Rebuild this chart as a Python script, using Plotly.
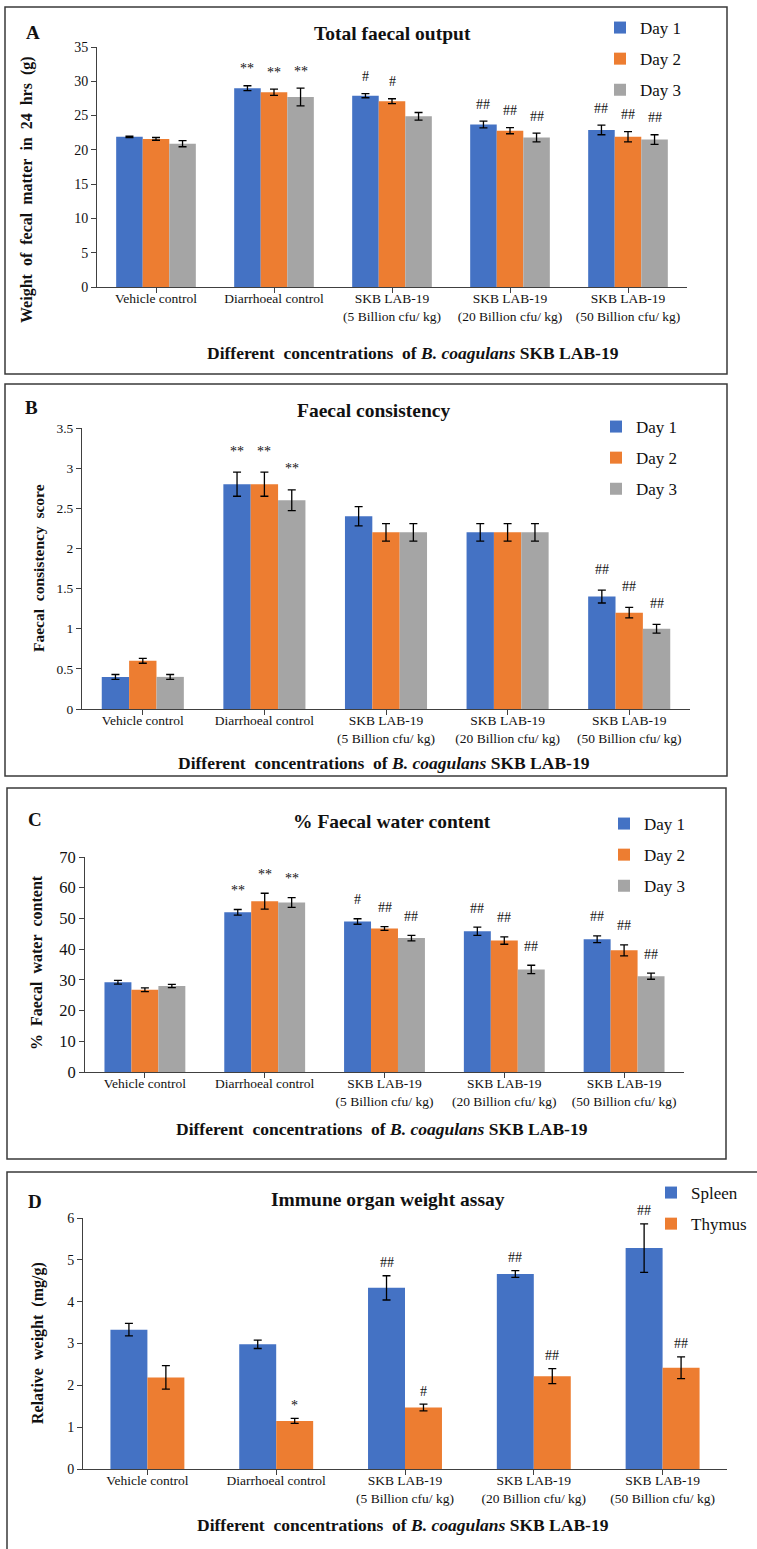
import plotly.graph_objects as go

W, H = 757, 1549
FONT = "Liberation Serif"
INK = "#111111"
AXIS = "#404040"

# ---------------- data ----------------
categories = ["Vehicle control", "Diarrhoeal control",
              "SKB LAB-19<br>(5 Billion cfu/ kg)",
              "SKB LAB-19<br>(20 Billion cfu/ kg)",
              "SKB LAB-19<br>(50 Billion cfu/ kg)"]
day_names = ["Day 1", "Day 2", "Day 3"]
organ_names = ["Spleen", "Thymus"]
day_colors = ["#4472C4", "#ED7D31", "#A5A5A5"]
organ_colors = ["#4472C4", "#ED7D31"]

# A: Total faecal output (g)
output_day1 = [21.9, 29.0, 27.9, 23.7, 22.9]
output_day2 = [21.6, 28.4, 27.1, 22.8, 21.9]
output_day3 = [20.9, 27.7, 24.9, 21.8, 21.5]
output_day1_err = [0.1, 0.35, 0.3, 0.5, 0.7]
output_day2_err = [0.2, 0.45, 0.35, 0.45, 0.75]
output_day3_err = [0.45, 1.3, 0.55, 0.65, 0.7]
output_day1_sig = ["", "**", "#", "##", "##"]
output_day2_sig = ["", "**", "#", "##", "##"]
output_day3_sig = ["", "**", "", "##", "##"]

# B: Faecal consistency score
consist_day1 = [0.4, 2.8, 2.4, 2.2, 1.4]
consist_day2 = [0.6, 2.8, 2.2, 2.2, 1.2]
consist_day3 = [0.4, 2.6, 2.2, 2.2, 1.0]
consist_day1_err = [0.03, 0.15, 0.12, 0.11, 0.08]
consist_day2_err = [0.03, 0.15, 0.11, 0.11, 0.065]
consist_day3_err = [0.03, 0.13, 0.11, 0.11, 0.055]
consist_day1_sig = ["", "**", "", "", "##"]
consist_day2_sig = ["", "**", "", "", "##"]
consist_day3_sig = ["", "**", "", "", "##"]

# C: % Faecal water content
water_day1 = [29.2, 52.0, 49.0, 45.8, 43.2]
water_day2 = [26.8, 55.6, 46.7, 42.8, 39.6]
water_day3 = [28.0, 55.2, 43.6, 33.4, 31.2]
water_day1_err = [0.6, 0.9, 0.9, 1.35, 1.1]
water_day2_err = [0.6, 2.6, 0.6, 1.2, 1.8]
water_day3_err = [0.5, 1.6, 0.9, 1.35, 1.0]
water_day1_sig = ["", "**", "#", "##", "##"]
water_day2_sig = ["", "**", "##", "##", "##"]
water_day3_sig = ["", "**", "##", "##", "##"]

# D: Immune organ weight (mg/g)
spleen = [3.33, 2.98, 4.33, 4.66, 5.28]
thymus = [2.19, 1.15, 1.47, 2.22, 2.42]
spleen_err = [0.15, 0.10, 0.29, 0.08, 0.58]
thymus_err = [0.28, 0.06, 0.08, 0.18, 0.26]
spleen_sig = ["", "", "##", "##", "##"]
thymus_sig = ["", "*", "#", "##", "##"]


def px_x(x):
    return x / W


def px_y(y):
    return 1 - y / H


fig = go.Figure()
annotations = []
shapes = []


def add_panel(n, letter, title, ytitle, names, colors, values, errors, sigs,
              plot_px, yrange, dtick, bar_w, ytickfont, legend_px,
              letter_px, title_px, ytitle_px, ytitle_size, xtitle_px,
              box_px, sig_shift):
    suffix = "" if n == 1 else str(n)
    xref, yref = "x" + suffix, "y" + suffix
    legend_id = "legend" + suffix
    ns = len(names)
    group = ns * bar_w
    for j in range(ns):
        fig.add_trace(go.Bar(
            x=list(range(len(categories))), y=values[j], name=names[j],
            marker=dict(color=colors[j], line=dict(width=0)),
            width=bar_w, offset=-group / 2 + j * bar_w,
            error_y=dict(type="data", array=errors[j], color="#000000",
                         thickness=1.3, width=4),
            xaxis=xref, yaxis=yref, legend=legend_id,
            legendgroup=f"{names[j]}{n}", showlegend=True,
        ))
        for i, s in enumerate(sigs[j]):
            if s:
                annotations.append(dict(
                    x=i - group / 2 + (j + 0.5) * bar_w,
                    y=values[j][i] + errors[j][i],
                    xref=xref, yref=yref, text=s, showarrow=False,
                    xanchor="center", yanchor="middle", yshift=sig_shift,
                    font=dict(family=FONT, size=14, color=INK)))
    x0, y0, x1, y1 = plot_px
    fig.layout["xaxis" + suffix] = dict(
        domain=[px_x(x0), px_x(x1)], anchor=yref,
        range=[-0.5, len(categories) - 0.5],
        tickmode="array", tickvals=list(range(len(categories))),
        ticktext=categories, showline=True, linecolor=AXIS, linewidth=1,
        ticks="outside", tickson="boundaries", ticklen=5, tickcolor=AXIS,
        ticklabelstandoff=-6,
        tickfont=dict(family=FONT, size=13.5, color=INK),
        showgrid=False, zeroline=False, fixedrange=True)
    fig.layout["yaxis" + suffix] = dict(
        domain=[px_y(y1), px_y(y0)], anchor=xref, range=yrange, dtick=dtick,
        showline=True, linecolor=AXIS, linewidth=1, ticks="outside",
        ticklen=5, tickcolor=AXIS,
        tickfont=dict(family=FONT, size=ytickfont, color=INK),
        showgrid=False, zeroline=False, fixedrange=True)
    fig.layout[legend_id] = dict(
        x=px_x(legend_px[0]), y=px_y(legend_px[1]), xanchor="left",
        yanchor="top", bgcolor="rgba(0,0,0,0)", traceorder="grouped",
        tracegroupgap=6, font=dict(family=FONT, size=17, color=INK))
    # panel letter, title, axis titles
    annotations.append(dict(x=px_x(letter_px[0]), y=px_y(letter_px[1]),
                            xref="paper", yref="paper", text=f"<b>{letter}</b>",
                            showarrow=False, xanchor="center", yanchor="middle",
                            font=dict(family=FONT, size=19, color=INK)))
    annotations.append(dict(x=px_x(title_px[0]), y=px_y(title_px[1]),
                            xref="paper", yref="paper", text=f"<b>{title}</b>",
                            showarrow=False, xanchor="center", yanchor="middle",
                            font=dict(family=FONT, size=19.5, color=INK)))
    annotations.append(dict(x=px_x(ytitle_px[0]), y=px_y(ytitle_px[1]),
                            xref="paper", yref="paper", text=f"<b>{ytitle}</b>",
                            showarrow=False, xanchor="center", yanchor="middle",
                            textangle=-90,
                            font=dict(family=FONT, size=ytitle_size, color=INK)))
    annotations.append(dict(x=px_x(xtitle_px[0]), y=px_y(xtitle_px[1]),
                            xref="paper", yref="paper",
                            text="<b>Different\u00a0 concentrations\u00a0 of "
                                 "<i>B. coagulans</i> SKB LAB-19</b>",
                            showarrow=False, xanchor="center", yanchor="middle",
                            font=dict(family=FONT, size=17.5, color=INK)))
    bx0, by0, bx1, by1 = box_px
    shapes.append(dict(type="rect", xref="paper", yref="paper",
                       x0=px_x(bx0), x1=px_x(bx1), y0=px_y(by1), y1=px_y(by0),
                       line=dict(color="#3a3a3a", width=1.5),
                       fillcolor="rgba(0,0,0,0)", layer="below"))


sp = "\u00a0 "
add_panel(1, "A", "Total faecal output",
          sp.join(["Weight", "of", "fecal", "matter", "in", "24", "hrs", "(g)"]),
          day_names, day_colors,
          [output_day1, output_day2, output_day3],
          [output_day1_err, output_day2_err, output_day3_err],
          [output_day1_sig, output_day2_sig, output_day3_sig],
          (97, 47, 687, 287), [0, 35], 5, 0.225, 14, (600, 10),
          (33, 32), (393, 34), (27, 190), 16, (413, 353),
          (5, 7, 727, 374), 17)

add_panel(2, "B", "Faecal consistency",
          sp.join(["Faecal", "consistency", "score"]),
          day_names, day_colors,
          [consist_day1, consist_day2, consist_day3],
          [consist_day1_err, consist_day2_err, consist_day3_err],
          [consist_day1_sig, consist_day2_sig, consist_day3_sig],
          (82, 428, 690, 709), [0, 3.5], 0.5, 0.225, 13.5, (596, 409),
          (31, 407), (374, 411), (38, 568), 15.5, (384, 763),
          (5, 384, 727, 776), 21)

add_panel(3, "C", "% Faecal water content",
          sp.join(["%", "Faecal", "water", "content"]),
          day_names, day_colors,
          [water_day1, water_day2, water_day3],
          [water_day1_err, water_day2_err, water_day3_err],
          [water_day1_sig, water_day2_sig, water_day3_sig],
          (85, 857, 684, 1072), [0, 70], 10, 0.225, 16.5, (604, 806),
          (35, 819), (392, 821), (36, 963), 16, (382, 1129),
          (7, 788, 726, 1159), 19)

add_panel(4, "D", "Immune organ weight assay",
          sp.join(["Relative", "weight", "(mg/g)"]),
          organ_names, organ_colors,
          [spleen, thymus], [spleen_err, thymus_err],
          [spleen_sig, thymus_sig],
          (83, 1218, 727, 1469), [0, 6], 1, 0.287, 14, (651, 1175),
          (35, 1201), (388, 1199), (38, 1343), 16, (403, 1525),
          (7, 1172, 770, 1560), 13)

fig.update_layout(
    width=W, height=H, autosize=False,
    margin=dict(l=0, r=0, t=0, b=0, pad=0, autoexpand=False),
    paper_bgcolor="white", plot_bgcolor="white",
    barmode="group", annotations=annotations, shapes=shapes,
    font=dict(family=FONT, color=INK),
)

fig.write_html("out.html",
               config={"displayModeBar": False},
               post_script="document.body.style.margin='0';"
                           "document.body.style.padding='0';")
